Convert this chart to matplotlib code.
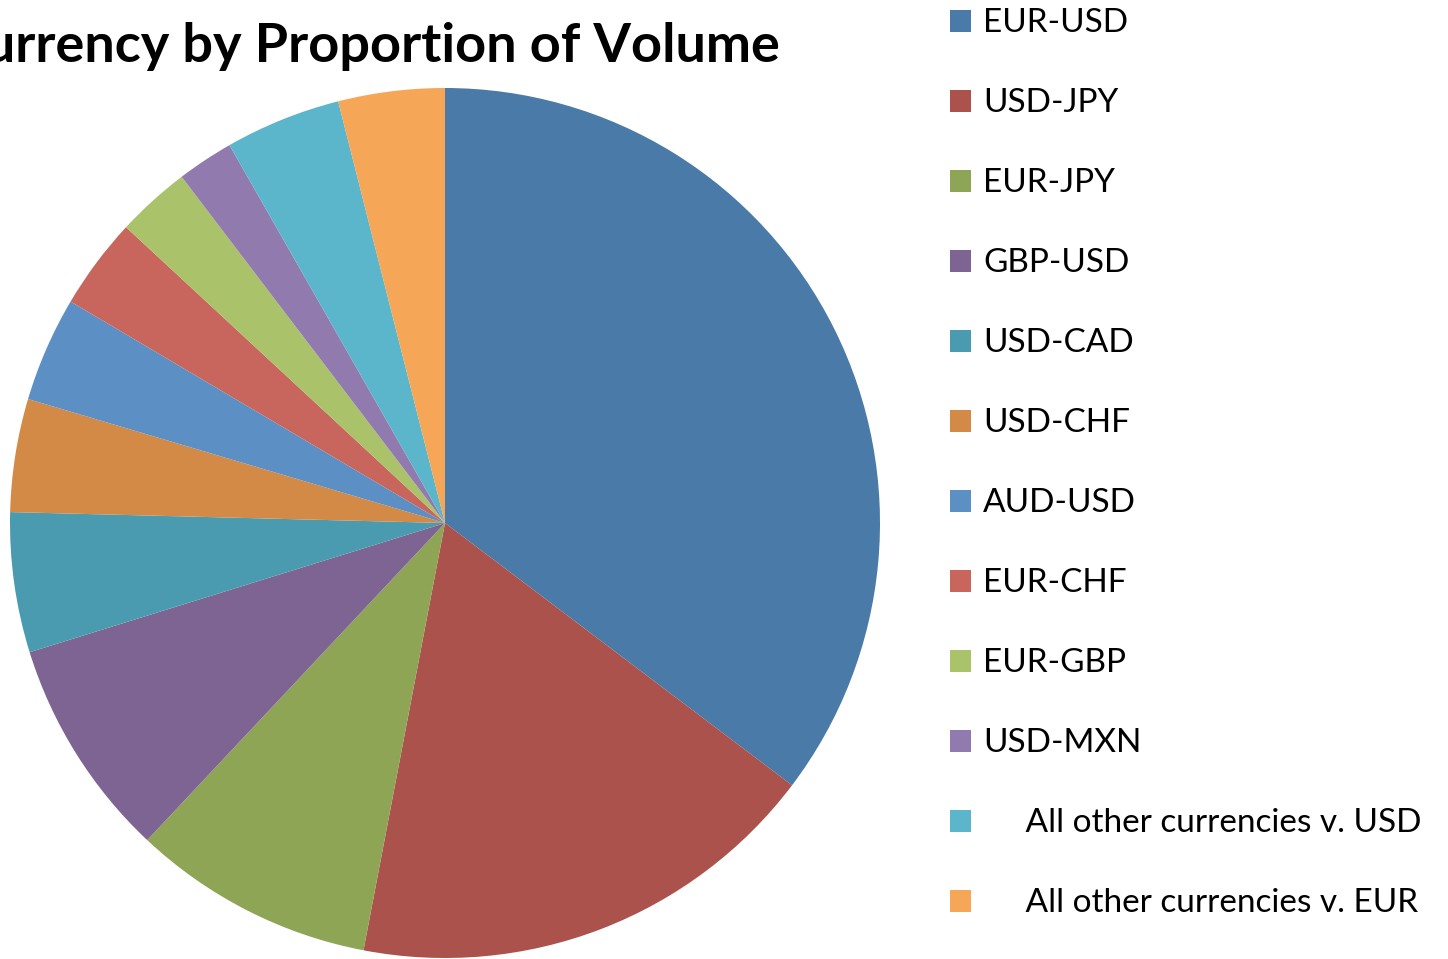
import numpy as np
import matplotlib
matplotlib.use('Agg')
import matplotlib.pyplot as plt

#--------------------------------------
# Data (share of volume, %)
#--------------------------------------
pairs = ['EUR-USD', 'USD-JPY', 'EUR-JPY', 'GBP-USD', 'USD-CAD', 'USD-CHF',
         'AUD-USD', 'EUR-CHF', 'EUR-GBP', 'USD-MXN',
         '     All other currencies v. USD', '     All other currencies v. EUR']
shares = [35.3, 17.7, 9.0, 8.2, 5.2, 4.2, 3.9, 3.4, 2.75, 2.1, 4.3, 3.95]
colors = ['#4A7AA8', '#AA524B', '#8EA556', '#7E6492', '#4A9BAF', '#D28A46',
          '#5C90C4', '#C8665E', '#AAC26A', '#917BAE', '#5BB5CB', '#F5A656']

plt.rcParams['font.family'] = ['Lato', 'DejaVu Sans']

W, H = 1448, 959
fig = plt.figure(figsize=(W / 100, H / 100), dpi=100)

# pie centre at (445, 523) px, radius 435 px
cx, cy, r = 445, 523, 435
ax = fig.add_axes([(cx - r) / W, (H - cy - r) / H, 2 * r / W, 2 * r / H])
wedges, _ = ax.pie(shares, colors=colors, startangle=90, counterclock=False,
                   radius=1, wedgeprops=dict(linewidth=0))
ax.set_xlim(-1, 1)
ax.set_ylim(-1, 1)
ax.set_aspect('auto')
ax.axis('off')

fig.text(780 / W, (H - 62) / H, 'Currency by Proportion of Volume',
         ha='right', va='baseline', fontsize=39, fontweight='bold')

fig.legend(wedges, pairs, loc='upper left', bbox_to_anchor=(937 / W, 1 + 5 / H),
           frameon=False, fontsize=24, handlelength=0.63, handleheight=0.63,
           handletextpad=0.36, labelspacing=1.50, borderaxespad=0)

fig.savefig('out.png', dpi=100)
